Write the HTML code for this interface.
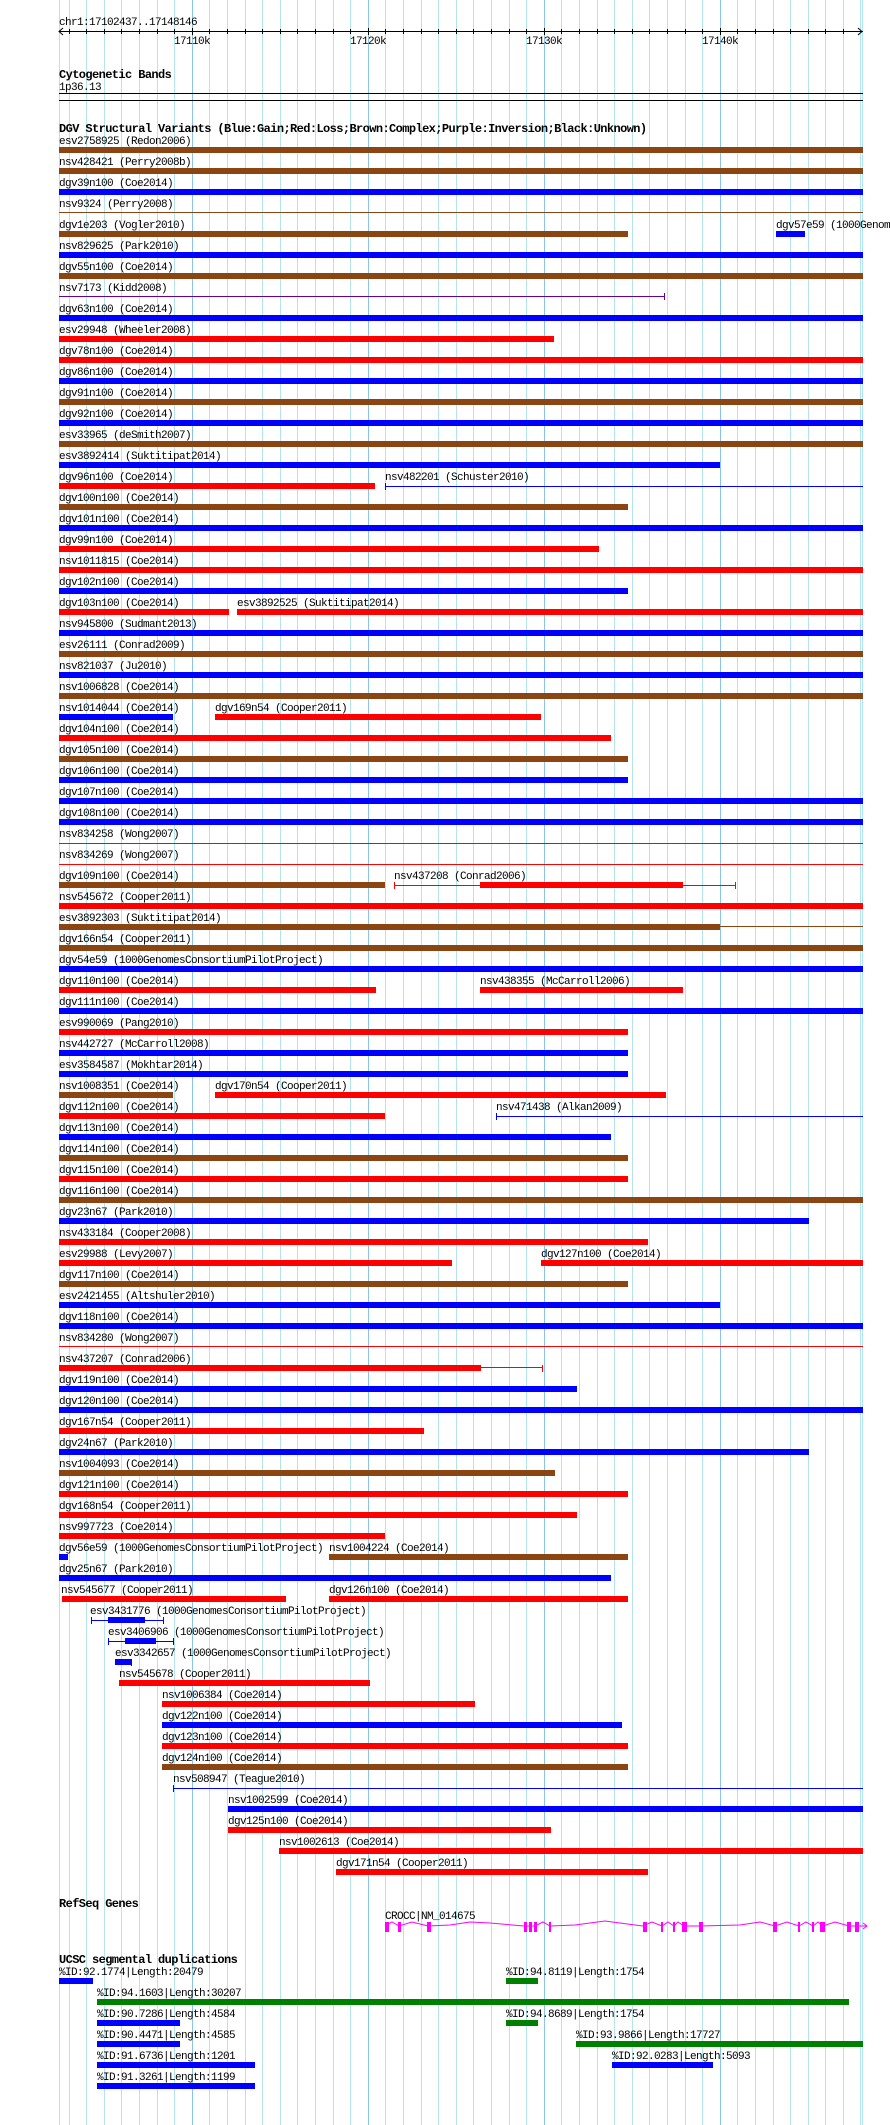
<!DOCTYPE html>
<html><head><meta charset="utf-8"><style>
html,body{margin:0;padding:0;background:#fff;}
svg{display:block}
text{font-family:"Liberation Mono","DejaVu Sans Mono",monospace;font-size:11px;letter-spacing:-0.6px;fill:#000}
.t{font-weight:bold;font-size:12px;letter-spacing:-0.6px}
.b{fill:#0000ff}.r{fill:#ff0000}.n{fill:#8b4513}.p{fill:#660099}.g{fill:#008000}.m{fill:#ff00ff}
</style></head><body>
<svg width="890" height="2125" viewBox="0 0 890 2125" xmlns="http://www.w3.org/2000/svg">
<g fill="#b4e4ee">
<rect x="59" y="0" width="1" height="2125"/><rect x="69" y="0" width="1" height="2125"/><rect x="86" y="0" width="1" height="2125"/><rect x="104" y="0" width="1" height="2125"/><rect x="121" y="0" width="1" height="2125"/><rect x="139" y="0" width="1" height="2125"/><rect x="157" y="0" width="1" height="2125"/><rect x="174" y="0" width="1" height="2125"/><rect x="209" y="0" width="1" height="2125"/><rect x="227" y="0" width="1" height="2125"/><rect x="245" y="0" width="1" height="2125"/><rect x="262" y="0" width="1" height="2125"/><rect x="280" y="0" width="1" height="2125"/><rect x="297" y="0" width="1" height="2125"/><rect x="315" y="0" width="1" height="2125"/><rect x="333" y="0" width="1" height="2125"/><rect x="350" y="0" width="1" height="2125"/><rect x="385" y="0" width="1" height="2125"/><rect x="403" y="0" width="1" height="2125"/><rect x="421" y="0" width="1" height="2125"/><rect x="438" y="0" width="1" height="2125"/><rect x="456" y="0" width="1" height="2125"/><rect x="473" y="0" width="1" height="2125"/><rect x="491" y="0" width="1" height="2125"/><rect x="509" y="0" width="1" height="2125"/><rect x="526" y="0" width="1" height="2125"/><rect x="561" y="0" width="1" height="2125"/><rect x="579" y="0" width="1" height="2125"/><rect x="597" y="0" width="1" height="2125"/><rect x="614" y="0" width="1" height="2125"/><rect x="632" y="0" width="1" height="2125"/><rect x="649" y="0" width="1" height="2125"/><rect x="667" y="0" width="1" height="2125"/><rect x="685" y="0" width="1" height="2125"/><rect x="702" y="0" width="1" height="2125"/><rect x="737" y="0" width="1" height="2125"/><rect x="755" y="0" width="1" height="2125"/><rect x="773" y="0" width="1" height="2125"/><rect x="790" y="0" width="1" height="2125"/><rect x="808" y="0" width="1" height="2125"/><rect x="825" y="0" width="1" height="2125"/><rect x="843" y="0" width="1" height="2125"/><rect x="860" y="0" width="1" height="2125"/><rect x="862" y="0" width="1" height="2125"/>
</g>
<g fill="#8cc4e4"><rect x="192" y="0" width="1" height="2125"/><rect x="368" y="0" width="1" height="2125"/><rect x="544" y="0" width="1" height="2125"/><rect x="720" y="0" width="1" height="2125"/></g>

<text x="59" y="25">chr1:17102437..17148146</text>
<rect x="59" y="31" width="804" height="1" fill="#000"/>
<path d="M63 28 L59 31.5 L63 35 M858 28 L862 31.5 L858 35" stroke="#000" fill="none"/>
<g fill="#000">
<rect x="69" y="29" width="1" height="5"/><rect x="86" y="29" width="1" height="5"/><rect x="104" y="29" width="1" height="5"/><rect x="121" y="29" width="1" height="5"/><rect x="139" y="29" width="1" height="5"/><rect x="157" y="29" width="1" height="5"/><rect x="174" y="29" width="1" height="5"/><rect x="192" y="28" width="1" height="7"/><rect x="209" y="29" width="1" height="5"/><rect x="227" y="29" width="1" height="5"/><rect x="245" y="29" width="1" height="5"/><rect x="262" y="29" width="1" height="5"/><rect x="280" y="29" width="1" height="5"/><rect x="297" y="29" width="1" height="5"/><rect x="315" y="29" width="1" height="5"/><rect x="333" y="29" width="1" height="5"/><rect x="350" y="29" width="1" height="5"/><rect x="368" y="28" width="1" height="7"/><rect x="385" y="29" width="1" height="5"/><rect x="403" y="29" width="1" height="5"/><rect x="421" y="29" width="1" height="5"/><rect x="438" y="29" width="1" height="5"/><rect x="456" y="29" width="1" height="5"/><rect x="473" y="29" width="1" height="5"/><rect x="491" y="29" width="1" height="5"/><rect x="509" y="29" width="1" height="5"/><rect x="526" y="29" width="1" height="5"/><rect x="544" y="28" width="1" height="7"/><rect x="561" y="29" width="1" height="5"/><rect x="579" y="29" width="1" height="5"/><rect x="597" y="29" width="1" height="5"/><rect x="614" y="29" width="1" height="5"/><rect x="632" y="29" width="1" height="5"/><rect x="649" y="29" width="1" height="5"/><rect x="667" y="29" width="1" height="5"/><rect x="685" y="29" width="1" height="5"/><rect x="702" y="29" width="1" height="5"/><rect x="720" y="28" width="1" height="7"/><rect x="737" y="29" width="1" height="5"/><rect x="755" y="29" width="1" height="5"/><rect x="773" y="29" width="1" height="5"/><rect x="790" y="29" width="1" height="5"/><rect x="808" y="29" width="1" height="5"/><rect x="825" y="29" width="1" height="5"/><rect x="843" y="29" width="1" height="5"/>
</g>
<text x="192" y="44" text-anchor="middle">17110k</text>
<text x="368" y="44" text-anchor="middle">17120k</text>
<text x="544" y="44" text-anchor="middle">17130k</text>
<text x="720" y="44" text-anchor="middle">17140k</text>

<text class="t" x="59" y="78">Cytogenetic Bands</text>
<text x="59" y="90">1p36.13</text>
<rect x="59" y="93" width="804" height="1" fill="#000"/>
<rect x="59" y="100" width="804" height="1" fill="#000"/>

<text class="t" x="59" y="132">DGV Structural Variants (Blue:Gain;Red:Loss;Brown:Complex;Purple:Inversion;Black:Unknown)</text>

<text x="59" y="144">esv2758925 (Redon2006)</text><rect class="n" x="59" y="147" width="804" height="6"/>
<text x="59" y="165">nsv428421 (Perry2008b)</text><rect class="n" x="59" y="168" width="804" height="6"/>
<text x="59" y="186">dgv39n100 (Coe2014)</text><rect class="b" x="59" y="189" width="804" height="6"/>
<text x="59" y="207">nsv9324 (Perry2008)</text><rect class="n" x="59" y="212" width="804" height="1"/>
<text x="59" y="228">dgv1e203 (Vogler2010)</text><rect class="n" x="59" y="231" width="569" height="6"/>
<text x="776" y="228">dgv57e59 (1000GenomesConsortiumPilotProject)</text><rect class="b" x="776" y="231" width="29" height="6"/>
<text x="59" y="249">nsv829625 (Park2010)</text><rect class="b" x="59" y="252" width="804" height="6"/>
<text x="59" y="270">dgv55n100 (Coe2014)</text><rect class="n" x="59" y="273" width="804" height="6"/>
<text x="59" y="291">nsv7173 (Kidd2008)</text><rect class="p" x="59" y="296" width="605" height="1"/><rect class="p" x="664" y="293" width="1" height="7"/>
<text x="59" y="312">dgv63n100 (Coe2014)</text><rect class="b" x="59" y="315" width="804" height="6"/>
<text x="59" y="333">esv29948 (Wheeler2008)</text><rect class="r" x="59" y="336" width="495" height="6"/>
<text x="59" y="354">dgv78n100 (Coe2014)</text><rect class="r" x="59" y="357" width="804" height="6"/>
<text x="59" y="375">dgv86n100 (Coe2014)</text><rect class="b" x="59" y="378" width="804" height="6"/>
<text x="59" y="396">dgv91n100 (Coe2014)</text><rect class="n" x="59" y="399" width="804" height="6"/>
<text x="59" y="417">dgv92n100 (Coe2014)</text><rect class="b" x="59" y="420" width="804" height="6"/>
<text x="59" y="438">esv33965 (deSmith2007)</text><rect class="n" x="59" y="441" width="804" height="6"/>
<text x="59" y="459">esv3892414 (Suktitipat2014)</text><rect class="b" x="59" y="462" width="661" height="6"/>
<text x="59" y="480">dgv96n100 (Coe2014)</text><rect class="r" x="59" y="483" width="316" height="6"/>
<text x="385" y="480">nsv482201 (Schuster2010)</text><rect class="b" x="385" y="486" width="478" height="1"/><rect class="b" x="385" y="483" width="1" height="7"/>
<text x="59" y="501">dgv100n100 (Coe2014)</text><rect class="n" x="59" y="504" width="569" height="6"/>
<text x="59" y="522">dgv101n100 (Coe2014)</text><rect class="b" x="59" y="525" width="804" height="6"/>
<text x="59" y="543">dgv99n100 (Coe2014)</text><rect class="r" x="59" y="546" width="540" height="6"/>
<text x="59" y="564">nsv1011815 (Coe2014)</text><rect class="r" x="59" y="567" width="804" height="6"/>
<text x="59" y="585">dgv102n100 (Coe2014)</text><rect class="b" x="59" y="588" width="569" height="6"/>
<text x="59" y="606">dgv103n100 (Coe2014)</text><rect class="r" x="59" y="609" width="170" height="6"/>
<text x="237" y="606">esv3892525 (Suktitipat2014)</text><rect class="r" x="237" y="609" width="626" height="6"/>
<text x="59" y="627">nsv945800 (Sudmant2013)</text><rect class="b" x="59" y="630" width="804" height="6"/>
<text x="59" y="648">esv26111 (Conrad2009)</text><rect class="n" x="59" y="651" width="804" height="6"/>
<text x="59" y="669">nsv821037 (Ju2010)</text><rect class="b" x="59" y="672" width="804" height="6"/>
<text x="59" y="690">nsv1006828 (Coe2014)</text><rect class="n" x="59" y="693" width="804" height="6"/>
<text x="59" y="711">nsv1014044 (Coe2014)</text><rect class="b" x="59" y="714" width="114" height="6"/>
<text x="215" y="711">dgv169n54 (Cooper2011)</text><rect class="r" x="215" y="714" width="326" height="6"/>
<text x="59" y="732">dgv104n100 (Coe2014)</text><rect class="r" x="59" y="735" width="552" height="6"/>
<text x="59" y="753">dgv105n100 (Coe2014)</text><rect class="n" x="59" y="756" width="569" height="6"/>
<text x="59" y="774">dgv106n100 (Coe2014)</text><rect class="b" x="59" y="777" width="569" height="6"/>
<text x="59" y="795">dgv107n100 (Coe2014)</text><rect class="b" x="59" y="798" width="804" height="6"/>
<text x="59" y="816">dgv108n100 (Coe2014)</text><rect class="b" x="59" y="819" width="804" height="6"/>
<text x="59" y="837">nsv834258 (Wong2007)</text><rect class="r" x="59" y="843" width="804" height="1"/>
<text x="59" y="858">nsv834269 (Wong2007)</text><rect class="r" x="59" y="864" width="804" height="1"/>
<text x="59" y="879">dgv109n100 (Coe2014)</text><rect class="n" x="59" y="882" width="326" height="6"/>
<text x="394" y="879">nsv437208 (Conrad2006)</text><rect class="r" x="394" y="885" width="341" height="1"/><rect class="r" x="394" y="882" width="1" height="7"/><rect class="r" x="735" y="882" width="1" height="7"/><rect class="r" x="480" y="882" width="203" height="6"/>
<text x="59" y="900">nsv545672 (Cooper2011)</text><rect class="r" x="59" y="903" width="804" height="6"/>
<text x="59" y="921">esv3892303 (Suktitipat2014)</text><rect class="n" x="59" y="924" width="661" height="6"/><rect class="n" x="720" y="926" width="143" height="1"/>
<text x="59" y="942">dgv166n54 (Cooper2011)</text><rect class="n" x="59" y="945" width="804" height="6"/>
<text x="59" y="963">dgv54e59 (1000GenomesConsortiumPilotProject)</text><rect class="b" x="59" y="966" width="804" height="6"/>
<text x="59" y="984">dgv110n100 (Coe2014)</text><rect class="r" x="59" y="987" width="317" height="6"/>
<text x="480" y="984">nsv438355 (McCarroll2006)</text><rect class="r" x="480" y="987" width="203" height="6"/>
<text x="59" y="1005">dgv111n100 (Coe2014)</text><rect class="b" x="59" y="1008" width="804" height="6"/>
<text x="59" y="1026">esv990069 (Pang2010)</text><rect class="r" x="59" y="1029" width="569" height="6"/>
<text x="59" y="1047">nsv442727 (McCarroll2008)</text><rect class="b" x="59" y="1050" width="569" height="6"/>
<text x="59" y="1068">esv3584587 (Mokhtar2014)</text><rect class="b" x="59" y="1071" width="569" height="6"/>
<text x="59" y="1089">nsv1008351 (Coe2014)</text><rect class="n" x="59" y="1092" width="114" height="6"/>
<text x="215" y="1089">dgv170n54 (Cooper2011)</text><rect class="r" x="215" y="1092" width="451" height="6"/>
<text x="59" y="1110">dgv112n100 (Coe2014)</text><rect class="r" x="59" y="1113" width="326" height="6"/>
<text x="496" y="1110">nsv471438 (Alkan2009)</text><rect class="b" x="496" y="1116" width="367" height="1"/><rect class="b" x="496" y="1113" width="1" height="7"/>
<text x="59" y="1131">dgv113n100 (Coe2014)</text><rect class="b" x="59" y="1134" width="552" height="6"/>
<text x="59" y="1152">dgv114n100 (Coe2014)</text><rect class="n" x="59" y="1155" width="569" height="6"/>
<text x="59" y="1173">dgv115n100 (Coe2014)</text><rect class="r" x="59" y="1176" width="569" height="6"/>
<text x="59" y="1194">dgv116n100 (Coe2014)</text><rect class="n" x="59" y="1197" width="804" height="6"/>
<text x="59" y="1215">dgv23n67 (Park2010)</text><rect class="b" x="59" y="1218" width="750" height="6"/>
<text x="59" y="1236">nsv433184 (Cooper2008)</text><rect class="r" x="59" y="1239" width="589" height="6"/>
<text x="59" y="1257">esv29988 (Levy2007)</text><rect class="r" x="59" y="1260" width="393" height="6"/>
<text x="541" y="1257">dgv127n100 (Coe2014)</text><rect class="r" x="541" y="1260" width="322" height="6"/>
<text x="59" y="1278">dgv117n100 (Coe2014)</text><rect class="n" x="59" y="1281" width="569" height="6"/>
<text x="59" y="1299">esv2421455 (Altshuler2010)</text><rect class="b" x="59" y="1302" width="661" height="6"/>
<text x="59" y="1320">dgv118n100 (Coe2014)</text><rect class="b" x="59" y="1323" width="804" height="6"/>
<text x="59" y="1341">nsv834280 (Wong2007)</text><rect class="r" x="59" y="1346" width="804" height="1"/>
<text x="59" y="1362">nsv437207 (Conrad2006)</text><rect class="r" x="59" y="1365" width="422" height="6"/><rect class="r" x="481" y="1367" width="61" height="1"/><rect class="r" x="542" y="1365" width="1" height="7"/>
<text x="59" y="1383">dgv119n100 (Coe2014)</text><rect class="b" x="59" y="1386" width="518" height="6"/>
<text x="59" y="1404">dgv120n100 (Coe2014)</text><rect class="b" x="59" y="1407" width="804" height="6"/>
<text x="59" y="1425">dgv167n54 (Cooper2011)</text><rect class="r" x="59" y="1428" width="365" height="6"/>
<text x="59" y="1446">dgv24n67 (Park2010)</text><rect class="b" x="59" y="1449" width="750" height="6"/>
<text x="59" y="1467">nsv1004093 (Coe2014)</text><rect class="n" x="59" y="1470" width="496" height="6"/>
<text x="59" y="1488">dgv121n100 (Coe2014)</text><rect class="r" x="59" y="1491" width="569" height="6"/>
<text x="59" y="1509">dgv168n54 (Cooper2011)</text><rect class="r" x="59" y="1512" width="518" height="6"/>
<text x="59" y="1530">nsv997723 (Coe2014)</text><rect class="r" x="59" y="1533" width="326" height="6"/>
<text x="59" y="1551">dgv56e59 (1000GenomesConsortiumPilotProject)</text><rect class="b" x="59" y="1554" width="9" height="6"/>
<text x="329" y="1551">nsv1004224 (Coe2014)</text><rect class="n" x="329" y="1554" width="299" height="6"/>
<text x="59" y="1572">dgv25n67 (Park2010)</text><rect class="b" x="59" y="1575" width="552" height="6"/>
<text x="61" y="1593">nsv545677 (Cooper2011)</text><rect class="r" x="62" y="1596" width="224" height="6"/>
<text x="329" y="1593">dgv126n100 (Coe2014)</text><rect class="r" x="329" y="1596" width="299" height="6"/>
<text x="90" y="1614">esv3431776 (1000GenomesConsortiumPilotProject)</text><rect class="b" x="91" y="1620" width="73" height="1"/><rect class="b" x="91" y="1617" width="1" height="7"/><rect class="b" x="163" y="1617" width="1" height="7"/><rect class="b" x="108" y="1617" width="37" height="6"/>
<text x="108" y="1635">esv3406906 (1000GenomesConsortiumPilotProject)</text><rect class="b" x="108" y="1641" width="65" height="1"/><rect class="b" x="108" y="1638" width="1" height="7"/><rect class="b" x="173" y="1638" width="1" height="7"/><rect class="b" x="125" y="1638" width="31" height="6"/>
<text x="115" y="1656">esv3342657 (1000GenomesConsortiumPilotProject)</text><rect class="b" x="115" y="1659" width="16" height="6"/><rect class="b" x="131" y="1659" width="1" height="7"/>
<text x="119" y="1677">nsv545678 (Cooper2011)</text><rect class="r" x="119" y="1680" width="251" height="6"/>
<text x="162" y="1698">nsv1006384 (Coe2014)</text><rect class="r" x="162" y="1701" width="313" height="6"/>
<text x="162" y="1719">dgv122n100 (Coe2014)</text><rect class="b" x="162" y="1722" width="460" height="6"/>
<text x="162" y="1740">dgv123n100 (Coe2014)</text><rect class="r" x="162" y="1743" width="466" height="6"/>
<text x="162" y="1761">dgv124n100 (Coe2014)</text><rect class="n" x="162" y="1764" width="466" height="6"/>
<text x="173" y="1782">nsv508947 (Teague2010)</text><rect class="b" x="173" y="1788" width="690" height="1"/><rect class="b" x="173" y="1785" width="1" height="7"/>
<text x="228" y="1803">nsv1002599 (Coe2014)</text><rect class="b" x="228" y="1806" width="635" height="6"/>
<text x="228" y="1824">dgv125n100 (Coe2014)</text><rect class="r" x="228" y="1827" width="323" height="6"/>
<text x="279" y="1845">nsv1002613 (Coe2014)</text><rect class="r" x="279" y="1848" width="584" height="6"/>
<text x="336" y="1866">dgv171n54 (Cooper2011)</text><rect class="r" x="336" y="1869" width="312" height="6"/>

<text class="t" x="59" y="1907">RefSeq Genes</text>
<text x="385" y="1919">CROCC|NM_014675</text>
<polyline fill="none" stroke="#ff00ff" stroke-width="1" points="385,1926 392,1922 399,1926 412,1922 428,1926 450,1925 470,1922 490,1923 524,1926 535,1926 543,1922 550,1926 575,1925 605,1921 643,1926 652,1922 662,1926 668,1922 674,1926 678,1922 684,1926 700,1926 740,1925 760,1922 775,1926 787,1922 799,1926 806,1922 813,1926 818,1922 823,1926 835,1922 849,1926 867,1926"/>
<g class="m">
<rect x="385" y="1922" width="4" height="10"/><rect x="398" y="1922" width="3" height="10"/><rect x="427" y="1922" width="4" height="10"/><rect x="524" y="1922" width="3" height="10"/><rect x="529" y="1922" width="3" height="10"/><rect x="534" y="1922" width="3" height="10"/><rect x="549" y="1922" width="2" height="10"/><rect x="643" y="1922" width="4" height="10"/><rect x="661" y="1922" width="2" height="10"/><rect x="673" y="1922" width="2" height="10"/><rect x="682" y="1922" width="5" height="10"/><rect x="699" y="1922" width="4" height="10"/><rect x="773" y="1922" width="4" height="10"/><rect x="798" y="1922" width="2" height="10"/><rect x="812" y="1922" width="2" height="10"/><rect x="820" y="1922" width="5" height="10"/><rect x="847" y="1922" width="4" height="10"/><rect x="855" y="1922" width="4" height="10"/>
</g>
<path d="M863 1923 L867 1926 L863 1929" stroke="#ff00ff" fill="none"/>

<text class="t" x="59" y="1963">UCSC segmental duplications</text>
<text x="59" y="1975">%ID:92.1774|Length:20479</text><rect class="b" x="59" y="1978" width="34" height="6"/>
<text x="506" y="1975">%ID:94.8119|Length:1754</text><rect class="g" x="506" y="1978" width="32" height="6"/>
<text x="97" y="1996">%ID:94.1603|Length:30207</text><rect class="g" x="97" y="1999" width="752" height="6"/>
<text x="97" y="2017">%ID:90.7286|Length:4584</text><rect class="b" x="97" y="2020" width="83" height="6"/>
<text x="506" y="2017">%ID:94.8689|Length:1754</text><rect class="g" x="506" y="2020" width="32" height="6"/>
<text x="97" y="2038">%ID:90.4471|Length:4585</text><rect class="b" x="97" y="2041" width="83" height="6"/>
<text x="576" y="2038">%ID:93.9866|Length:17727</text><rect class="g" x="576" y="2041" width="287" height="6"/>
<text x="97" y="2059">%ID:91.6736|Length:1201</text><rect class="b" x="97" y="2062" width="158" height="6"/>
<text x="612" y="2059">%ID:92.0283|Length:5093</text><rect class="b" x="612" y="2062" width="101" height="6"/>
<text x="97" y="2080">%ID:91.3261|Length:1199</text><rect class="b" x="97" y="2083" width="158" height="6"/>
</svg>
</body></html>
